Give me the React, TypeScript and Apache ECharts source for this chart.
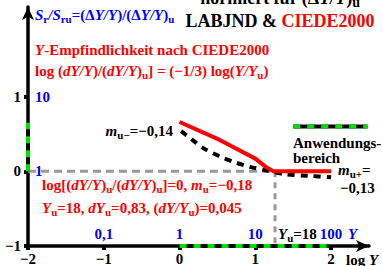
import React, { useEffect, useRef } from "react";
import * as echarts from "echarts";

// ---- data ----
const xTicks = [-2, -1, 0, 1, 2];
const yTicks = [-1, 0, 1];
const blueXTicks = [-1, 0, 1, 2];
const blueXText = ["0,1", "1", "10", "100"];
const blueYTicks = [0, 1];
const blueYText = ["1", "10"];
const logYu = 1.26;
const redCurve = [[0, 0.66], [0.53, 0.42], [1.0, 0.17], [1.15, 0.05], [1.24, 0], [2, 0]];
const blackCurve = [[0.02, 0.54], [0.17, 0.42], [0.33, 0.3], [0.53, 0.2], [0.73, 0.12], [0.93, 0.06], [1.15, 0.01], [1.4, -0.04], [1.7, -0.06], [2, -0.08]];
const grayH = [[-2, 0], [logYu, 0]];
const grayV = [[logYu, 0], [logYu, -1]];
const rangeY = [[-2, 0], [-2, 0.65]];
const rangeX = [[0, -1], [1.95, -1]];
const legendSample = [[1.5, 0.6], [2.48, 0.6]];

const F = "'Liberation Serif', 'Times New Roman', serif";
const RED = "#ff0000";
const BLUE = "#0000ff";
const GREEN = "#00e000";

function rs(color: string, size: number) {
  const sub = Math.round(size * 0.75);
  const base = { fill: color, fontFamily: F, fontWeight: "bold" };
  const pad = Math.round(size * 0.5);
  return {
    n: { ...base, fontSize: size },
    i: { ...base, fontSize: size, fontStyle: "italic" },
    s: { ...base, fontSize: sub, padding: [pad, 0, 0, 0] },
    r: { ...base, fill: RED, fontSize: size },
  };
}

function txt(x: number, y: number, text: string, color: string, size: number, align = "left") {
  return {
    type: "text",
    x,
    y,
    z: 100,
    style: {
      text,
      fill: color,
      font: `bold ${size}px ${F}`,
      align,
      verticalAlign: "middle",
      rich: rs(color, size),
    },
  };
}

function lineSeries(data: number[][], color: string, width: number, type: any, z: number) {
  return {
    type: "line",
    data,
    showSymbol: false,
    symbol: "none",
    clip: false,
    z,
    lineStyle: { color, width, type, cap: "butt" },
  };
}

export default function App() {
  const ref = useRef<HTMLDivElement>(null);
  useEffect(() => {
    const chart = echarts.init(ref.current!, null, { renderer: "svg" });
    const minus = (v: number) => (v < 0 ? "\u2212" + Math.abs(v) : String(v));
    const option: any = {
      animation: false,
      grid: { left: 28, top: 7, width: 341, height: 240 },
      xAxis: [
        {
          type: "value", min: -2, max: 2.5, position: "bottom",
          splitLine: { show: false },
          axisLine: { show: true, onZero: false, symbol: ["none", "arrow"], symbolSize: [9, 13], lineStyle: { color: "#000", width: 3.5 } },
          axisTick: { show: true, customValues: xTicks, length: 4, lineStyle: { color: "#000", width: 4 } },
          axisLabel: { customValues: xTicks, formatter: minus, fontFamily: F, fontWeight: "bold", fontSize: 15, color: "#000", margin: 5 },
        },
        {
          type: "value", min: -2, max: 2.5, position: "bottom",
          splitLine: { show: false }, axisLine: { show: false }, axisTick: { show: false },
          axisLabel: {
            inside: true, customValues: blueXTicks, margin: 5,
            formatter: (v: number) => blueXText[blueXTicks.indexOf(v)] ?? "",
            fontFamily: F, fontWeight: "bold", fontSize: 15, color: BLUE,
          },
        },
      ],
      yAxis: [
        {
          type: "value", min: -1, max: 2.2, position: "left",
          splitLine: { show: false },
          axisLine: { show: true, onZero: false, symbol: ["none", "arrow"], symbolSize: [9, 13], lineStyle: { color: "#000", width: 3.5 } },
          axisTick: { show: true, customValues: yTicks, length: 4, lineStyle: { color: "#000", width: 4 } },
          axisLabel: { customValues: yTicks, formatter: minus, fontFamily: F, fontWeight: "bold", fontSize: 15, color: "#000", margin: 7 },
        },
        {
          type: "value", min: -1, max: 2.2, position: "left",
          splitLine: { show: false }, axisLine: { show: false }, axisTick: { show: false },
          axisLabel: {
            inside: true, customValues: blueYTicks, margin: 7,
            formatter: (v: number) => blueYText[blueYTicks.indexOf(v)] ?? "",
            fontFamily: F, fontWeight: "bold", fontSize: 15, color: BLUE,
          },
        },
      ],
      series: [
        lineSeries(grayH, "#999999", 3, [8, 5], 2),
        lineSeries(grayV, "#999999", 3, [6, 5], 2),
        lineSeries(rangeY, "#000", 4, "solid", 3),
        lineSeries(rangeY, GREEN, 4, [7, 7], 4),
        lineSeries(rangeX, "#000", 4, "solid", 3),
        lineSeries(rangeX, GREEN, 4, [7, 7], 4),
        lineSeries(legendSample, "#000", 4, "solid", 3),
        lineSeries(legendSample, GREEN, 4, [7, 7], 4),
        { ...lineSeries(blackCurve, "#000", 4, [7, 6], 5), smooth: 0.3 },
        lineSeries(redCurve, RED, 4, "solid", 6),
      ],
      graphic: [
        txt(280, -2, "{n|normiert für (Δ}{i|Y/Y}{n|)}{s|u}", "#000", 18, "center"),
        txt(280, 21, "{n|LABJND & }{r|CIEDE2000}", "#000", 18, "center"),
        txt(35, 15, "{i|S}{s|r}{i|/S}{s|ru}{n|=(Δ}{i|Y/Y}{n|)/(Δ}{i|Y/Y}{n|)}{s|u}", BLUE, 15),
        txt(35, 50, "{i|Y}{n|-Empfindlichkeit nach CIEDE2000}", RED, 15),
        txt(35, 71, "{n|log (}{i|dY/Y}{n|)/(}{i|dY/Y}{n|)}{s|u}{n|] = (−1/3) log(}{i|Y/Y}{s|u}{n|)}", RED, 15),
        txt(173, 131, "{i|m}{s|u−}{n|=−0,14}", "#000", 15, "right"),
        txt(293, 143, "{n|Anwendungs-}", "#000", 15),
        txt(293, 158, "{n|bereich}", "#000", 15),
        txt(338, 170, "{i|m}{s|u+}{n|=}", "#000", 15),
        txt(340, 188, "{n|−0,13}", "#000", 15),
        txt(42, 185, "{n|log[(}{i|dY/Y}{n|)}{s|u}{n|/(}{i|dY/Y}{n|)}{s|u}{n|]=0, }{i|m}{s|u}{n|=−0,18}", RED, 15),
        txt(42, 208, "{i|Y}{s|u}{n|=18, }{i|dY}{s|u}{n|=0,83, (}{i|dY/Y}{s|u}{n|)=0,045}", RED, 15),
        txt(278, 234, "{i|Y}{s|u}{n|=18}", "#000", 15),
        txt(348, 234, "{i|Y}", BLUE, 15),
        txt(346, 260, "{n|log }{i|Y}", "#000", 15),
      ],
    };
    chart.setOption(option);
    return () => chart.dispose();
  }, []);
  return <div ref={ref} style={{ width: 383, height: 266, position: "absolute", left: 0, top: 0 }} />;
}
